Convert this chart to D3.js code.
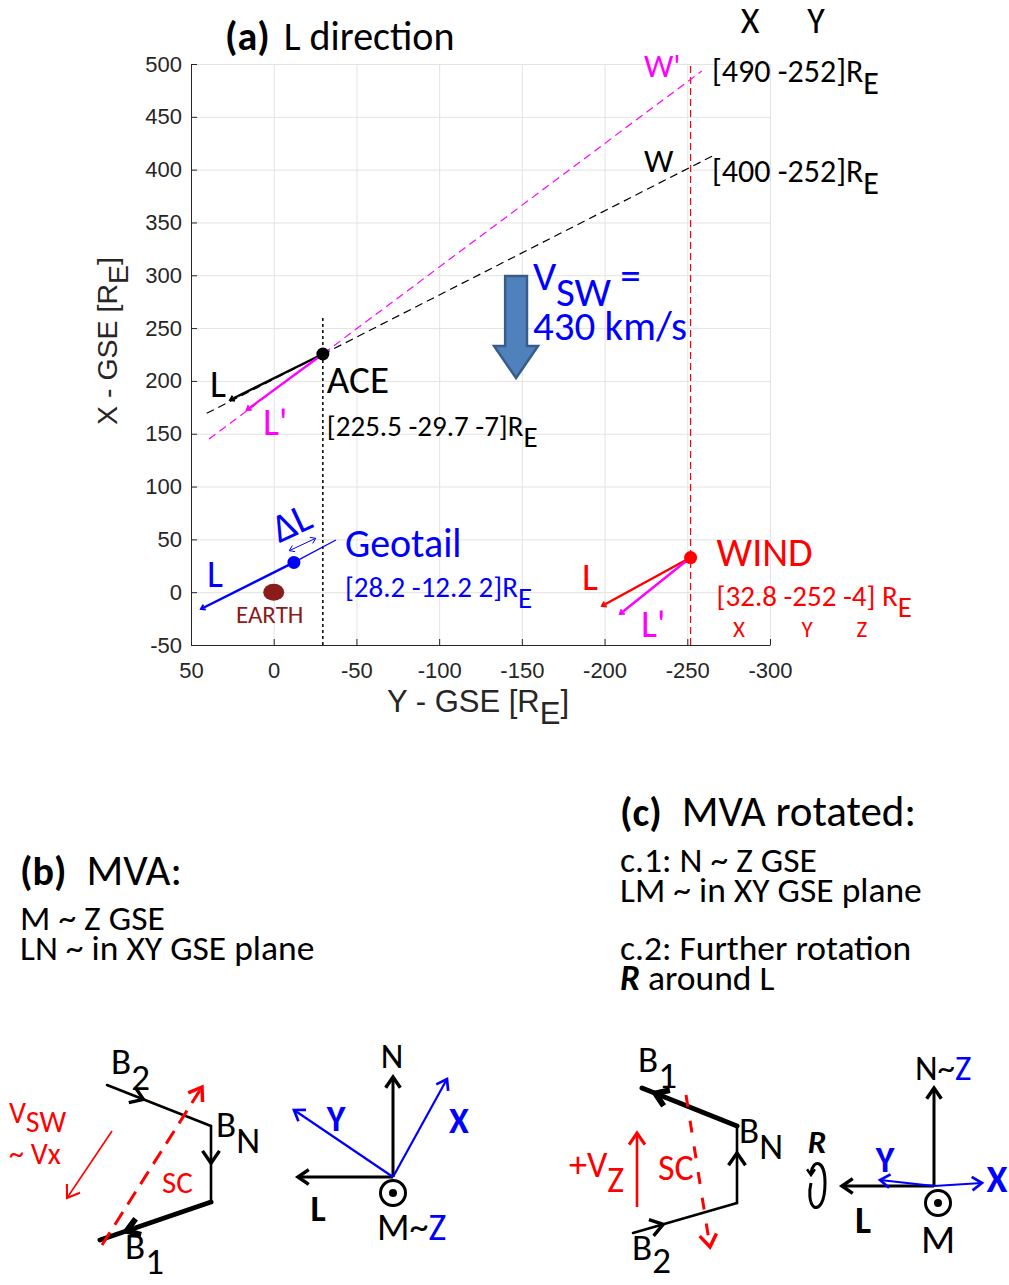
<!DOCTYPE html>
<html>
<head>
<meta charset="utf-8">
<title>L direction</title>
<script src="https://cdn.jsdelivr.net/npm/d3@7"></script>
<style>
  body { margin: 0; background: #fff; }
</style>
</head>
<body>
<svg id="fig" width="1009" height="1285"></svg>
<script>
// ---- panel (a) data ----
var yGseTicks = [50, 0, -50, -100, -150, -200, -250, -300];
var xGseTicks = [-50, 0, 50, 100, 150, 200, 250, 300, 350, 400, 450, 500];

// spacecraft positions, GSE [R_E]
var craftNames = ["ACE", "Geotail", "WIND"];
var craftX = [225.5, 28.2, 32.8];
var craftY = [-29.7, -12.2, -252];
var craftZ = [-7, 2, -4];
var craftColors = ["#000000", "#0000ff", "#ff0000"];

// tips of the L vectors drawn from each spacecraft
var lTipX = [181.9, -15.9, -13.1];
var lTipY = [26.4, 44, -198.4];
// tips of L' (ACE, WIND)
var lpTipX = [172.5, -20.7];
var lpTipY = [16.3, -209.3];

// phase front lines through ACE: W and W'
var wNames = ["W", "W'"];
var wHitX = [400, 490];
var wEndsX = [[169.3, 414.5], [145, 493.3]];
var wEndsY = [[40.5, -267.2], [39.1, -258.7]];

// Geotail extension and the delta-L span
var geoExtX = [28.2, 49.4];
var geoExtY = [-12.2, -37.6];
var dLX = [39.3, 51];
var dLY = [-9.4, -25.4];

// solar wind arrow (center Y, top X, head base X, tip X)
var vswArrow = [-146.5, 299.3, 233, 202.7];

// ---- panels (b) and (c) schematic, in sketch units ----
var fieldB = [[9.7, 17.5], [20.1, 13.4], [20.1, 5.8], [9.0, 2.0]];   // B2 -> BN -> B1
var scB = [[9.2, 1.5], [19.2, 17.3]];
var vswB = [[10.2, 12.9], [5.7, 6.2]];
var axesB = { o: [38.3, 8.3], N: [38.3, 18.3], L: [28.8, 8.3], Y: [28.4, 15.0], X: [43.7, 18.1], M: [38.3, 6.7] };

var fieldC = [[7.3, 2.7], [17.7, 5.7], [17.7, 13.4], [8.2, 17.2]];   // B2 -> BN -> B1
var scC = [[12.6, 16.5], [15.0, 1.3]];
var vzC = [[7.7, 5.3], [7.7, 12.7]];
var axesC = { o: [37.4, 7.4], N: [37.4, 17.2], L: [28.2, 7.4], Y: [32.0, 8.0], X: [42.2, 7.7], M: [37.8, 5.7] };

var ARIAL = "Arial, 'Liberation Sans', sans-serif";
var svg = d3.select("#fig").attr("font-family", "Carlito, Calibri, 'Open Sans', sans-serif");
svg.append("rect").attr("width", 1009).attr("height", 1285).attr("fill", "#fff");

// text with subscripts: parts = [{t, sub, fill, bold, italic, size}]
function rich(g, px, py, parts, size, anchor, subShift) {
  var t = g.append("text").attr("x", px).attr("y", py)
    .attr("font-size", size).attr("text-anchor", anchor || "start");
  var shift = 0, s = (subShift || 0.38) * size;
  parts.forEach(function(p) {
    var ts = t.append("tspan").text(p.t);
    var want = p.sub ? s : 0;
    if (want !== shift) { ts.attr("dy", want - shift); shift = want; }
    if (p.dx) ts.attr("dx", p.dx);
    if (p.fill) ts.attr("fill", p.fill);
    if (p.bold) ts.attr("font-weight", "bold");
    if (p.italic) ts.attr("font-style", "italic");
    if (p.size) ts.attr("font-size", p.size);
  });
  return t;
}

function chevron(g, p0, p1, t, len, color, w) {
  var ax = p0[0] + (p1[0] - p0[0]) * t, ay = p0[1] + (p1[1] - p0[1]) * t;
  var ang = Math.atan2(p1[1] - p0[1], p1[0] - p0[0]);
  var a1 = ang + Math.PI - 0.6, a2 = ang + Math.PI + 0.6;
  g.append("path")
    .attr("d", "M" + (ax + len * Math.cos(a1)) + "," + (ay + len * Math.sin(a1)) +
      "L" + ax + "," + ay + "L" + (ax + len * Math.cos(a2)) + "," + (ay + len * Math.sin(a2)))
    .attr("fill", "none").attr("stroke", color).attr("stroke-width", w);
}

// ================= panel (a) =================
var x = d3.scaleLinear().domain([50, -300]).range([191, 770]);
var y = d3.scaleLinear().domain([-50, 500]).range([645, 64]);
var fmt = function(d) { return String(d); };

var grid = svg.append("g");
grid.append("g").attr("transform", "translate(0,645)")
  .call(d3.axisBottom(x).tickValues(yGseTicks).tickSize(-(645 - 64)).tickFormat(""));
grid.append("g").attr("transform", "translate(191,0)")
  .call(d3.axisLeft(y).tickValues(xGseTicks).tickSize(-(770 - 191)).tickFormat(""));
grid.selectAll(".domain").remove();
grid.selectAll("line").attr("stroke", "#e3e3e3");

var xAx = svg.append("g").attr("transform", "translate(0,645)")
  .call(d3.axisBottom(x).tickValues(yGseTicks).tickFormat(fmt).tickSizeInner(-6).tickSizeOuter(0).tickPadding(17));
var yAx = svg.append("g").attr("transform", "translate(191,0)")
  .call(d3.axisLeft(y).tickValues(xGseTicks).tickFormat(fmt).tickSizeInner(-6).tickSizeOuter(0).tickPadding(9));
[xAx, yAx].forEach(function(a) {
  a.attr("font-size", 22).attr("font-family", ARIAL);
  a.selectAll(".domain, line").attr("stroke", "#262626");
  a.selectAll("text").attr("fill", "#262626");
});

// axis titles
rich(svg, 478, 712, [{t: "Y - GSE [R"}, {t: "E", sub: true}, {t: "]"}], 31, "middle", 0.4)
  .attr("font-family", ARIAL).attr("fill", "#262626");
rich(svg.append("g").attr("transform", "translate(117,341) rotate(-90)"), 0, 0,
  [{t: "X - GSE [R"}, {t: "E", sub: true}, {t: "]"}], 28.5, "middle", 0.4)
  .attr("font-family", ARIAL).attr("fill", "#262626");

// title
rich(svg, 225, 50, [{t: "(a)", bold: true}, {t: " L direction", dx: 5}], 40);

var plot = svg.append("g");

// vertical reference lines
plot.append("line")
  .attr("x1", x(craftY[0])).attr("x2", x(craftY[0])).attr("y1", y(-50)).attr("y2", y(261))
  .attr("stroke", "#000").attr("stroke-width", 1.5).attr("stroke-dasharray", "3,3");
plot.append("line")
  .attr("x1", x(craftY[2])).attr("x2", x(craftY[2])).attr("y1", y(-50)).attr("y2", y(500))
  .attr("stroke", "#d11").attr("stroke-width", 1.3).attr("stroke-dasharray", "7,4");

// W, W' lines
var wColors = ["#000000", "#ff00ff"];
wNames.forEach(function(n, i) {
  plot.append("line")
    .attr("x1", x(wEndsY[i][0])).attr("y1", y(wEndsX[i][0]))
    .attr("x2", x(wEndsY[i][1])).attr("y2", y(wEndsX[i][1]))
    .attr("stroke", wColors[i]).attr("stroke-width", 1.2).attr("stroke-dasharray", "8,5");
});

function lineArrow(x1, y1, x2, y2, color, w, head) {
  plot.append("line").attr("x1", x1).attr("y1", y1).attr("x2", x2).attr("y2", y2)
    .attr("stroke", color).attr("stroke-width", w);
  chevron(plot, [x1, y1], [x2, y2], 1, head, color, w * 0.8);
}

craftNames.forEach(function(n, i) {
  lineArrow(x(craftY[i]), y(craftX[i]), x(lTipY[i]), y(lTipX[i]), craftColors[i], 2.4, 5);
});
lineArrow(x(craftY[0]), y(craftX[0]), x(lpTipY[0]), y(lpTipX[0]), "#ff00ff", 2.4, 5);
lineArrow(x(craftY[2]), y(craftX[2]), x(lpTipY[1]), y(lpTipX[1]), "#ff00ff", 2.4, 5);

// Geotail extension and delta L
plot.append("line")
  .attr("x1", x(geoExtY[0])).attr("y1", y(geoExtX[0])).attr("x2", x(geoExtY[1])).attr("y2", y(geoExtX[1]))
  .attr("stroke", "#0000ff").attr("stroke-width", 1.3);
var d0 = [x(dLY[0]), y(dLX[0])], d1 = [x(dLY[1]), y(dLX[1])];
plot.append("line").attr("x1", d0[0]).attr("y1", d0[1]).attr("x2", d1[0]).attr("y2", d1[1])
  .attr("stroke", "#0000ff").attr("stroke-width", 1);
chevron(plot, d0, d1, 1, 6, "#0000ff", 1);
chevron(plot, d1, d0, 1, 6, "#0000ff", 1);

// Earth
plot.append("ellipse").attr("cx", x(0)).attr("cy", y(0)).attr("rx", 10.5).attr("ry", 8.5).attr("fill", "#8c1c1c");
plot.append("text").attr("x", x(0) - 4).attr("y", y(0) + 31).attr("text-anchor", "middle")
  .attr("font-size", 25).attr("fill", "#8c1c1c").text("EARTH");

// spacecraft dots
craftNames.forEach(function(n, i) {
  plot.append("circle").attr("cx", x(craftY[i])).attr("cy", y(craftX[i])).attr("r", 6.5).attr("fill", craftColors[i]);
});

// solar wind block arrow
var c = vswArrow[0];
var aPts = [[c + 6.6, vswArrow[1]], [c - 6.6, vswArrow[1]], [c - 6.6, vswArrow[2]], [c - 13.3, vswArrow[2]],
            [c, vswArrow[3]], [c + 13.3, vswArrow[2]], [c + 6.6, vswArrow[2]]];
plot.append("path")
  .attr("d", d3.line().x(function(d) { return x(d[0]); }).y(function(d) { return y(d[1]); })(aPts) + "Z")
  .attr("fill", "#4f81bd").attr("stroke", "#385d8a").attr("stroke-width", 2.5);
rich(plot, 533, 290, [{t: "V"}, {t: "SW", sub: true}, {t: " ="}], 41, "start", 0.38).attr("fill", "#0000ff");
plot.append("text").attr("x", 533).attr("y", 340).attr("font-size", 41).attr("fill", "#0000ff").text("430 km/s");

// labels near ACE
var ax0 = x(craftY[0]), ay0 = y(craftX[0]);
plot.append("text").attr("x", ax0 + 4).attr("y", ay0 + 39).attr("font-size", 39).text(craftNames[0]);
rich(plot, ax0 + 4, ay0 + 82, [{t: "[" + craftX[0] + " " + craftY[0] + " " + craftZ[0] + "]R"}, {t: "E", sub: true}], 29);
plot.append("text").attr("x", 210).attr("y", 397).attr("font-size", 38).text("L");
plot.append("text").attr("x", 263).attr("y", 435).attr("font-size", 38).attr("fill", "#ff00ff").text("L'");

// labels near Geotail
var gx0 = x(craftY[1]), gy0 = y(craftX[1]);
plot.append("text").attr("x", gx0 + 51).attr("y", gy0 - 5).attr("font-size", 40).attr("fill", "#0000ff").text(craftNames[1]);
rich(plot, gx0 + 51, gy0 + 35, [{t: "[" + craftX[1] + " " + craftY[1] + " " + craftZ[1] + "]R"}, {t: "E", sub: true}], 29)
  .attr("fill", "#0000ff");
plot.append("text").attr("x", 207).attr("y", 587).attr("font-size", 38).attr("fill", "#0000ff").text("L");
plot.append("text").attr("transform", "translate(297,535) rotate(-25)").attr("text-anchor", "middle")
  .attr("font-size", 40).attr("fill", "#0000ff").text("\u0394L");

// labels near WIND
var wx0 = x(craftY[2]), wy0 = y(craftX[2]);
plot.append("text").attr("x", wx0 + 26).attr("y", wy0 + 8).attr("font-size", 40).attr("fill", "#ff0000").text(craftNames[2]);
rich(plot, wx0 + 26, wy0 + 48, [{t: "[" + craftX[2] + " " + craftY[2] + " " + craftZ[2] + "] R"}, {t: "E", sub: true}], 29)
  .attr("fill", "#ff0000");
["X", "Y", "Z"].forEach(function(s, i) {
  plot.append("text").attr("x", [739, 807, 862][i]).attr("y", 637).attr("text-anchor", "middle")
    .attr("font-size", 23).attr("fill", "#ff0000").text(s);
});
plot.append("text").attr("x", 582).attr("y", 590).attr("font-size", 38).attr("fill", "#ff0000").text("L");
plot.append("text").attr("x", 641).attr("y", 637).attr("font-size", 38).attr("fill", "#ff00ff").text("L'");

// W labels and hit points
plot.append("text").attr("x", 644).attr("y", 77).attr("font-size", 33).attr("fill", "#ff00ff").text(wNames[1]);
plot.append("text").attr("x", 644).attr("y", 172).attr("font-size", 33).text(wNames[0]);
rich(svg, 712, 82, [{t: "[" + wHitX[1] + " " + craftY[2] + "]R"}, {t: "E", sub: true}], 32);
rich(svg, 712, 182, [{t: "[" + wHitX[0] + " " + craftY[2] + "]R"}, {t: "E", sub: true}], 32);
svg.append("text").attr("x", 750).attr("y", 33).attr("text-anchor", "middle").attr("font-size", 36).text("X");
svg.append("text").attr("x", 816).attr("y", 33).attr("text-anchor", "middle").attr("font-size", 36).text("Y");

// ================= text blocks (b), (c) =================
rich(svg, 20, 885, [{t: "(b)", bold: true, size: 40}, {t: "MVA:", dx: 20}], 43);
svg.append("text").attr("x", 20).attr("y", 930).attr("font-size", 35.5).text("M ~ Z GSE");
svg.append("text").attr("x", 20).attr("y", 960).attr("font-size", 35.5).text("LN ~ in XY GSE plane");
rich(svg, 620, 826, [{t: "(c)", bold: true, size: 40}, {t: "MVA rotated:", dx: 20}], 43);
svg.append("text").attr("x", 620).attr("y", 872).attr("font-size", 35.5).text("c.1: N ~ Z GSE");
svg.append("text").attr("x", 620).attr("y", 902).attr("font-size", 35.5).text("LM ~ in XY GSE plane");
svg.append("text").attr("x", 620).attr("y", 960).attr("font-size", 35.5).text("c.2: Further rotation");
rich(svg, 620, 990, [{t: "R", bold: true, italic: true}, {t: " around L"}], 35.5);

// ================= sketches =================
var sx = d3.scaleLinear().domain([0, 50]).range([10, 510]);
var sxc = d3.scaleLinear().domain([0, 45]).range([560, 1010]);
var sy = d3.scaleLinear().domain([0, 20]).range([1260, 1060]);
var sk = svg.append("g");

function drawField(pts, xs, widths, arrows) {
  var P = pts.map(function(p) { return [xs(p[0]), sy(p[1])]; });
  for (var i = 0; i < 3; i++) {
    sk.append("line").attr("x1", P[i][0]).attr("y1", P[i][1]).attr("x2", P[i + 1][0]).attr("y2", P[i + 1][1])
      .attr("stroke", "#000").attr("stroke-width", widths[i]).attr("stroke-linecap", "round");
    chevron(sk, P[i], P[i + 1], arrows[i], 15, "#000", widths[i] + 0.8);
  }
}
function arrow(p0, p1, xs, color, w, dash, head) {
  var a = [xs(p0[0]), sy(p0[1])], b = [xs(p1[0]), sy(p1[1])];
  var l = sk.append("line").attr("x1", a[0]).attr("y1", a[1]).attr("x2", b[0]).attr("y2", b[1])
    .attr("stroke", color).attr("stroke-width", w);
  if (dash) l.attr("stroke-dasharray", dash);
  chevron(sk, a, b, 1, head, color, w + 0.5);
}
function axesSet(A, xs) {
  arrow(A.o, A.N, xs, "#000", 3, null, 13);
  arrow(A.o, A.L, xs, "#000", 3, null, 13);
  arrow(A.o, A.Y, xs, "#0000ff", 2.2, null, 12);
  arrow(A.o, A.X, xs, "#0000ff", 2.2, null, 12);
  sk.append("circle").attr("cx", xs(A.M[0])).attr("cy", sy(A.M[1])).attr("r", 12.5)
    .attr("fill", "#fff").attr("stroke", "#000").attr("stroke-width", 3);
  sk.append("circle").attr("cx", xs(A.M[0])).attr("cy", sy(A.M[1])).attr("r", 4).attr("fill", "#000");
}

// (b)
drawField(fieldB, sx, [2.6, 2.6, 5], [0.35, 0.49, 0.76]);
arrow(scB[0], scB[1], sx, "#ff0000", 3, "15,9", 15);
arrow(vswB[0], vswB[1], sx, "#ff0000", 1.6, null, 14);
axesSet(axesB, sx);
rich(sk, 111, 1074, [{t: "B"}, {t: "2", sub: true}], 37, "start", 0.42);
rich(sk, 216, 1137, [{t: "B"}, {t: "N", sub: true}], 37, "start", 0.42);
rich(sk, 125, 1259, [{t: "B"}, {t: "1", sub: true}], 37, "start", 0.4);
rich(sk, 9, 1123, [{t: "V"}, {t: "SW", sub: true}], 30, "start", 0.3).attr("fill", "#ff0000");
sk.append("text").attr("x", 9).attr("y", 1164).attr("font-size", 30).attr("fill", "#ff0000").text("~ Vx");
sk.append("text").attr("x", 162).attr("y", 1193).attr("font-size", 31).attr("fill", "#ff0000").text("SC");
sk.append("text").attr("x", 392).attr("y", 1068).attr("text-anchor", "middle").attr("font-size", 35).text("N");
sk.append("text").attr("x", 336).attr("y", 1131).attr("text-anchor", "middle").attr("font-size", 36)
  .attr("font-weight", "bold").attr("fill", "#0000ff").text("Y");
sk.append("text").attr("x", 459).attr("y", 1133).attr("text-anchor", "middle").attr("font-size", 36)
  .attr("font-weight", "bold").attr("fill", "#0000ff").text("X");
sk.append("text").attr("x", 318).attr("y", 1221).attr("text-anchor", "middle").attr("font-size", 36)
  .attr("font-weight", "bold").text("L");
rich(sk, 377, 1240, [{t: "M~"}, {t: "Z", fill: "#0000ff"}], 38);

// (c)
drawField(fieldC, sxc, [2.6, 2.6, 5], [0.29, 0.65, 0.86]);
arrow(scC[0], scC[1], sxc, "#ff0000", 3, "12,14", 15);
arrow(vzC[0], vzC[1], sxc, "#ff0000", 2.6, null, 14);
axesSet(axesC, sxc);
rich(sk, 638, 1072, [{t: "B"}, {t: "1", sub: true}], 37, "start", 0.42);
rich(sk, 739, 1143, [{t: "B"}, {t: "N", sub: true}], 37, "start", 0.42);
rich(sk, 632, 1260, [{t: "B"}, {t: "2", sub: true}], 37, "start", 0.36);
rich(sk, 569, 1177, [{t: "+V"}, {t: "Z", sub: true}], 36, "start", 0.42).attr("fill", "#ff0000");
sk.append("text").attr("x", 658).attr("y", 1180).attr("font-size", 36).attr("fill", "#ff0000").text("SC");
rich(sk, 915, 1080, [{t: "N~"}, {t: "Z", fill: "#0000ff"}], 35);
sk.append("text").attr("x", 885).attr("y", 1172).attr("text-anchor", "middle").attr("font-size", 36)
  .attr("font-weight", "bold").attr("fill", "#0000ff").text("Y");
sk.append("text").attr("x", 997).attr("y", 1192).attr("text-anchor", "middle").attr("font-size", 38)
  .attr("font-weight", "bold").attr("fill", "#0000ff").text("X");
sk.append("text").attr("x", 863).attr("y", 1233).attr("text-anchor", "middle").attr("font-size", 38)
  .attr("font-weight", "bold").text("L");
sk.append("text").attr("x", 938).attr("y", 1253).attr("text-anchor", "middle").attr("font-size", 40).text("M");
sk.append("text").attr("x", 817).attr("y", 1153).attr("text-anchor", "middle").attr("font-size", 33)
  .attr("font-weight", "bold").attr("font-style", "italic").text("R");
// rotation curl around L
var rc = [sxc(25.7), sy(7.5)];
sk.append("path")
  .attr("d", "M" + (rc[0] - 6) + "," + (rc[1] - 12) +
    " C" + (rc[0] - 4) + "," + (rc[1] - 26) + " " + (rc[0] + 8) + "," + (rc[1] - 26) + " " + (rc[0] + 8) + "," + (rc[1] - 2) +
    " C" + (rc[0] + 8) + "," + (rc[1] + 18) + " " + (rc[0] + 2) + "," + (rc[1] + 24) + " " + (rc[0] - 3) + "," + (rc[1] + 22) +
    " C" + (rc[0] - 8) + "," + (rc[1] + 18) + " " + (rc[0] - 8) + "," + (rc[1] + 6) + " " + (rc[0] - 6) + "," + (rc[1] - 2))
  .attr("fill", "none").attr("stroke", "#000").attr("stroke-width", 3);
chevron(sk, [rc[0] - 6, rc[1] - 22], [rc[0] - 6, rc[1] - 10], 1, 7, "#000", 2.5);
</script>
</body>
</html>
